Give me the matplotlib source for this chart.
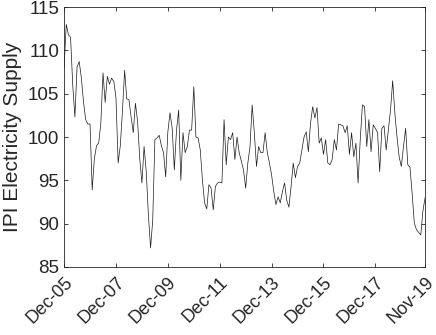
import matplotlib
matplotlib.use("Agg")
from matplotlib import pyplot as plt

# monthly IPI electricity supply, Dec-05 .. Nov-19
ipi = [
    108.0, 113.0, 111.8, 111.5, 106.0, 102.3, 108.1, 108.7, 106.8, 104.0,
    102.0, 101.5, 101.5, 93.9, 97.5, 99.0, 99.3, 101.6, 107.4, 104.0,
    107.0, 106.1, 106.8, 106.4, 104.5, 97.0, 99.0, 103.0, 107.7, 104.4,
    104.3, 102.3, 100.5, 103.9, 101.8, 97.5, 94.7, 98.9, 96.0, 91.0,
    87.2, 90.4, 99.7, 99.9, 100.2, 99.0, 98.2, 95.4, 100.6, 102.8,
    101.0, 96.2, 100.8, 103.1, 95.0, 100.5, 98.2, 98.9, 100.8, 100.8,
    105.8, 100.0, 99.9, 98.5, 95.0, 92.4, 91.7, 94.5, 94.1, 91.6,
    94.3, 94.7, 94.8, 94.7, 102.0, 96.8, 100.0, 99.7, 100.5, 97.4,
    100.0, 98.2, 97.2, 96.2, 94.1, 97.0, 98.9, 103.7, 100.5, 96.6,
    98.9, 98.2, 98.2, 100.5, 98.2, 97.0, 95.6, 93.7, 92.2, 93.1,
    92.4, 93.7, 94.7, 92.7, 91.9, 94.3, 97.0, 95.3, 96.6, 97.0,
    98.5, 100.0, 100.6, 98.3, 101.6, 103.5, 102.2, 103.4, 99.3, 99.9,
    98.0, 99.7, 97.0, 96.8, 97.4, 99.7, 98.5, 101.5, 101.4, 101.3,
    100.5, 101.3, 98.0, 100.5, 97.7, 99.3, 94.7, 99.7, 103.7, 103.5,
    98.9, 102.0, 98.3, 101.4, 101.0, 100.5, 96.0, 101.0, 101.3, 98.5,
    100.8, 103.1, 106.5, 102.8, 100.0, 97.7, 96.6, 98.9, 101.0, 96.8,
    96.5, 93.5, 90.1, 89.3, 89.0, 88.7, 91.5, 93.0,
]
tick_pos = [0, 24, 48, 72, 96, 120, 144, 167]
tick_lab = ["Dec-05", "Dec-07", "Dec-09", "Dec-11", "Dec-13", "Dec-15", "Dec-17", "Nov-19"]

plt.rcParams["font.family"] = ["Liberation Sans", "DejaVu Sans"]

fig = plt.figure(figsize=(4.36, 3.35), dpi=100)
ax = fig.add_axes([0.147, 0.203, 0.828, 0.776])
ax.plot(range(len(ipi)), ipi, color="#1a1a1a", lw=0.5)

ax.set_xlim(0, len(ipi) - 1)
ax.set_ylim(85, 115)
ax.set_yticks(range(85, 116, 5))
ax.set_xticks(tick_pos)
ax.set_xticklabels(tick_lab, rotation=45, ha="right", rotation_mode="anchor")
ax.tick_params(direction="in", top=True, right=True, length=3,
               labelsize=13.5, color="#262626", labelcolor="#262626", width=0.6)
ax.tick_params(axis="x", labelsize=13, pad=5)
for s in ax.spines.values():
    s.set_color("#262626")
    s.set_linewidth(0.6)
ax.set_ylabel("IPI Electricity Supply", fontsize=15, color="#262626")

fig.savefig("out.png", dpi=100)
